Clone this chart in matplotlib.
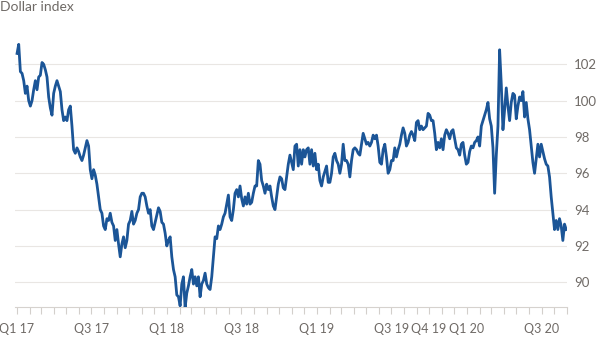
import matplotlib
matplotlib.use("Agg")
import matplotlib.pyplot as plt
import matplotlib.dates as mdates
import pandas as pd

# Dollar index values at regular intervals (~4 days) Jan 2017 - Aug 2020
vals_2017a = [102.6, 103.1, 101.6, 101.5, 101.1, 100.4, 100.8, 100.0, 99.7, 100.0,
              100.6, 101.1, 100.6, 101.3, 101.4, 102.1, 102.0, 101.7, 101.3, 100.2,
              99.6, 99.2, 100.4, 100.8, 101.1, 100.8, 100.5, 99.5, 98.9, 99.1,
              98.9, 99.5, 99.7, 98.6, 97.3, 97.1, 97.4, 97.2, 96.9, 96.7,
              97.0, 97.4, 97.8, 97.5, 96.2, 95.7, 96.2, 95.9, 95.4, 94.7,
              94.0, 93.8, 93.1, 92.9, 93.5, 93.4, 93.8, 93.3, 93.1, 92.3,
              92.9, 92.1, 91.4, 92.1, 92.5, 91.9, 92.3, 93.2, 93.4, 93.9,
              93.2, 93.4, 93.8, 94.0, 94.7, 94.9, 94.9, 94.7, 94.2, 93.8]
vals_2018 = [94.0, 93.1, 92.9, 93.3, 93.7, 94.1, 93.9, 93.3, 93.2, 92.7,
             92.0, 92.3, 92.5, 91.4, 90.7, 90.3, 89.3, 89.2, 88.7, 89.9,
             90.3, 88.6, 89.4, 89.8, 90.3, 90.7, 89.9, 90.3, 89.8, 90.3,
             89.2, 89.9, 90.1, 90.5, 89.9, 89.7, 89.6, 90.3, 91.4, 92.5,
             92.4, 93.1, 92.9, 93.2, 93.6, 93.8, 94.3, 94.8, 93.6, 93.4,
             94.0, 94.9, 95.1, 94.7, 95.3, 94.6, 94.2, 94.7, 94.3, 94.9,
             94.3, 94.4, 94.9, 95.3, 95.3, 96.7, 96.5, 95.6, 95.3, 94.9,
             95.4, 95.1, 95.3, 94.7, 94.2, 94.0, 94.7, 95.4, 95.8, 95.7,
             95.2, 95.1, 95.8, 96.5, 97.0, 96.6, 96.2, 97.5, 97.6, 96.4]
vals_2019 = [97.3, 96.5, 97.3, 96.9, 97.3, 97.4, 96.5, 97.3, 96.4, 97.1,
             96.2, 96.5, 95.6, 95.3, 95.8, 96.1, 96.4, 95.5, 95.5, 96.0,
             96.9, 97.1, 96.7, 96.5, 96.0, 96.5, 97.6, 96.7, 96.7, 96.5,
             95.8, 96.7, 97.3, 97.4, 97.3, 97.1, 97.0, 97.6, 98.2, 97.9,
             97.6, 97.7, 97.5, 97.7, 98.1, 97.9, 98.1, 97.5, 96.6, 96.5,
             97.3, 97.6, 96.9, 96.0, 96.2, 96.7, 96.7, 97.4, 96.9, 97.3,
             97.6, 98.1, 98.5, 98.2, 97.5, 97.7, 98.1, 98.3, 98.1, 97.8,
             98.8, 98.9, 98.4, 98.6, 98.4, 98.5, 98.6, 99.3, 99.2, 98.9,
             98.9, 98.2, 97.3, 97.7, 97.4, 97.9, 97.3, 98.1, 98.4, 98.2]
vals_2020 = [97.9, 98.3, 98.4, 97.9, 97.4, 97.3, 97.0, 97.6, 97.7, 97.0,
             96.5, 96.6, 97.2, 97.5, 97.4, 97.7, 97.8, 98.0, 97.5, 98.6,
             98.9, 99.2, 99.5, 99.9, 99.0, 98.6, 97.4, 94.9, 97.0, 98.6,
             102.8, 100.9, 98.4, 99.5, 100.7, 99.7, 98.9, 99.9, 100.4, 100.3,
             99.0, 99.7, 100.2, 100.0, 100.5, 99.1, 99.9, 99.0, 98.4, 97.5,
             96.6, 96.0, 96.8, 97.6, 96.9, 97.6, 97.2, 96.8, 96.5, 96.4,
             95.8, 94.7, 93.8, 92.9, 93.4, 92.9, 93.5, 93.1, 92.3, 93.2,
             92.9]
values = vals_2017a + vals_2018 + vals_2019 + vals_2020
dates = pd.date_range("2017-01-01", "2020-08-30", periods=len(values))

tick_dates = ["2017-01-01", "2017-07-01", "2018-01-01", "2018-07-01", "2019-01-01",
              "2019-07-01", "2019-10-01", "2020-01-01", "2020-07-01"]
tick_labels = ["Q1 17", "Q3 17", "Q1 18", "Q3 18", "Q1 19", "Q3 19", "Q4 19", "Q1 20", "Q3 20"]
y_ticks = [90, 92, 94, 96, 98, 100, 102]

plt.rcParams["font.family"] = ["Lato", "DejaVu Sans"]

W, H = 600, 338
TXT = "#6f6a66"
fig = plt.figure(figsize=(6, 3.38), dpi=100)
fig.patch.set_facecolor("white")
ax = fig.add_axes([15 / W, 1 - 307.3 / H, (567 - 15) / W, (307.3 - 30) / H])
ax.set_facecolor("white")

ax.plot(dates, values, color="#1b5597", lw=2.0, solid_joinstyle="round", zorder=3)

ax.set_ylim(88.62, 103.89)
ax.set_xlim(pd.Timestamp("2016-12-27"), pd.Timestamp("2020-09-01"))

ax.yaxis.tick_right()
ax.set_yticks(y_ticks)
ax.set_yticklabels([str(v) for v in y_ticks])
ax.tick_params(axis="y", length=0, pad=5, labelsize=9.5, labelcolor=TXT)
ax.grid(axis="y", color="#e9e6e3", lw=0.8, zorder=0)

ax.set_xticks([pd.Timestamp(d) for d in tick_dates])
ax.set_xticklabels(tick_labels)
ax.xaxis.set_minor_locator(mdates.MonthLocator())
ax.tick_params(axis="x", which="both", length=5, width=0.8, color="#d3cfcb",
               labelsize=9, labelcolor=TXT, pad=6)

for s in ["top", "left", "right"]:
    ax.spines[s].set_visible(False)
ax.spines["bottom"].set_color("#d6d2ce")
ax.spines["bottom"].set_linewidth(0.8)

fig.text(0.0, 1 - 1 / H, "Dollar index", fontsize=10, color=TXT, ha="left", va="top")

fig.savefig("out.png", dpi=100, facecolor="white")
